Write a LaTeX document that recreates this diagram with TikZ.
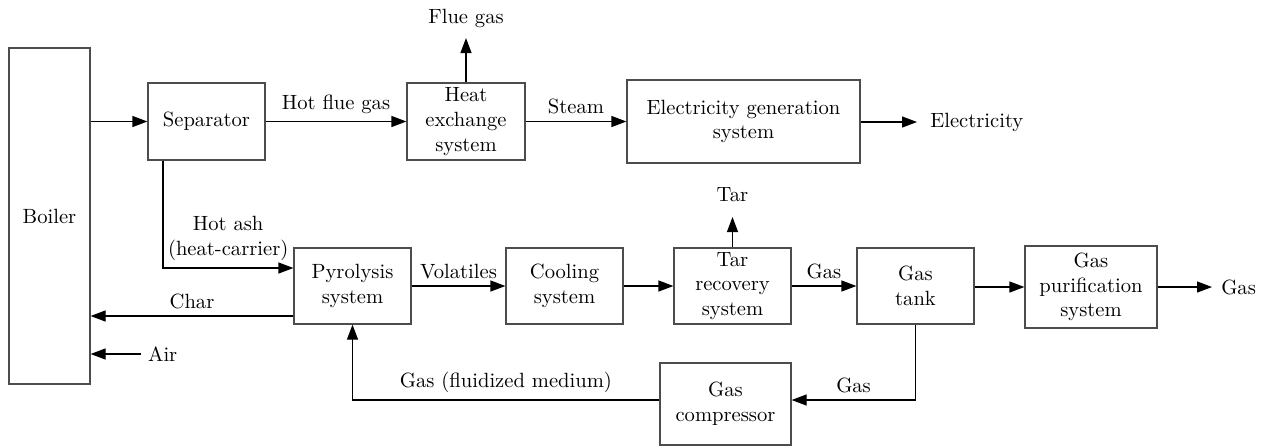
\documentclass[tikz,border=0pt]{standalone}
\usetikzlibrary{arrows.meta,calc}

\tikzset{
    blk/.style={draw=black!70, line width=0.6pt, align=center, inner sep=1pt,
        font=\fontsize{10.3pt}{12.3pt}\selectfont},
    lbl/.style={align=center, font=\fontsize{10.3pt}{12.3pt}\selectfont},
    arr/.style={line width=0.6pt, -{Triangle[length=7.5pt, width=5.5pt]}},
    ln/.style={line width=0.6pt}
}

\begin{document}
\begin{tikzpicture}[x=0.5pt, y=-0.5pt]
    \useasboundingbox (0,0) rectangle (1261,446);

    % Boxes of the upper row
    \node[blk, minimum width=40.5pt, minimum height=168pt] (boiler) at (49.5,216) {Boiler};
    \node[blk, minimum width=58.5pt, minimum height=38.5pt] (sep) at (206.5,121.5) {Separator};
    \node[blk, minimum width=59pt, minimum height=38.5pt] (heat) at (466,121.5) {Heat\\exchange\\system};
    \node[blk, minimum width=116.5pt, minimum height=41.5pt] (elec) at (743.5,121.5) {Electricity generation\\system};

    % Boxes of the lower row
    \node[blk, minimum width=58.5pt, minimum height=38pt] (pyro) at (352.5,286) {Pyrolysis\\system};
    \node[blk, minimum width=58.5pt, minimum height=38pt] (cool) at (564.5,286) {Cooling\\system};
    \node[blk, minimum width=58.5pt, minimum height=38pt] (tarrec) at (732.5,286) {Tar\\recovery\\system};
    \node[blk, minimum width=58.5pt, minimum height=38pt] (tank) at (915.5,286) {Gas\\tank};
    \node[blk, minimum width=66pt, minimum height=41pt] (puri) at (1091,287) {Gas\\purification\\system};
    \node[blk, minimum width=65.5pt, minimum height=41pt] (comp) at (725.5,404) {Gas\\compressor};

    % Free ends
    \coordinate (flueout) at (466,38);
    \coordinate (elecout) at (917,122);
    \coordinate (tarout) at (732.5,217);
    \coordinate (gasout) at (1212,287);
    \coordinate (airin) at (141,354);
    \coordinate (charout) at ([yshift=-15pt]pyro.west);
    \coordinate (compin) at ([yshift=2pt]comp.east);
    \coordinate (compout) at ([yshift=2pt]comp.west);

    % Upper flow
    \draw[arr] (boiler.east |- sep.west) -- (sep.west);
    \draw[arr] (sep) -- (heat) node[lbl, midway, above] {Hot flue gas};
    \draw[arr] (heat) -- (elec) node[lbl, midway, above] {Steam};
    \draw[arr] (heat.north) -- (flueout);
    \node[lbl] (fluegas) at (466,18) {Flue gas};
    \draw[arr] (elec.east |- elecout) -- (elecout) node[lbl, right, xshift=3pt] (electricity) {Electricity};

    % Lower flow
    \draw[arr] ([xshift=-21.75pt]sep.south) |- ([yshift=9pt]pyro.west)
        node[lbl, pos=0.75, above] {Hot ash\\(heat-carrier)};
    \draw[arr] (charout) -- (charout -| boiler.east) node[lbl, midway, above] {Char};
    \draw[arr] (airin) -- (airin -| boiler.east);
    \node[lbl, right] (air) at (airin) {Air};
    \draw[arr] (pyro) -- (cool) node[lbl, midway, above] {Volatiles};
    \draw[arr] (cool) -- (tarrec);
    \draw[arr] (tarrec.north) -- (tarout);
    \node[lbl] (tar) at (732.5,195) {Tar};
    \draw[arr] (tarrec) -- (tank) node[lbl, midway, above] {Gas};
    \draw[arr] (tank.east |- puri.west) -- (puri.west);
    \draw[arr] (puri.east) -- (gasout) node[lbl, right, xshift=1pt] (gasprod) {Gas};

    % Recycle loop
    \draw[arr] (tank.south) |- (compin) node[lbl, pos=0.75, above] {Gas};
    \draw[arr] (compout) -| (pyro.south) node[lbl, pos=0.25, above] {Gas (fluidized medium)};
\end{tikzpicture}
\end{document}
